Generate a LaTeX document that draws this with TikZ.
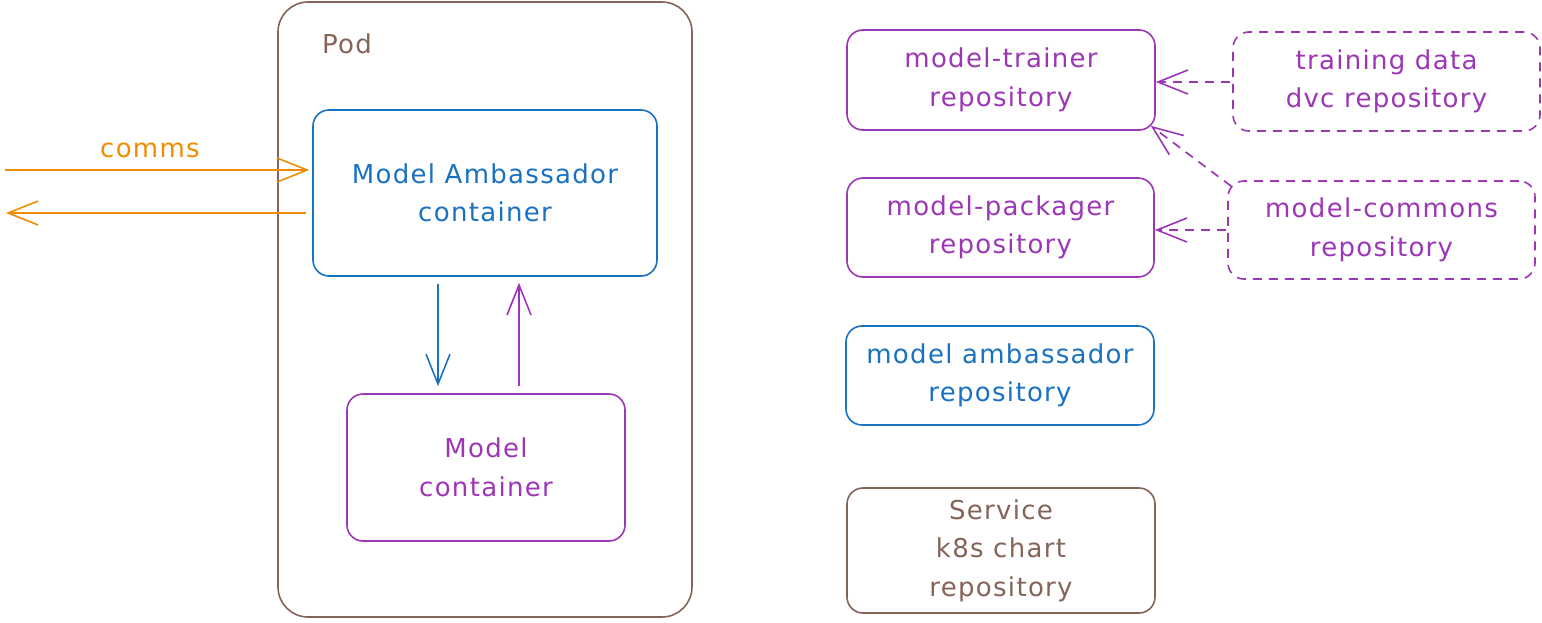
\documentclass[tikz,border=0pt]{standalone}
\usepackage{fontspec}
\setmainfont{DejaVu Sans}[LetterSpace=5]
\usetikzlibrary{arrows.meta,calc}
\definecolor{ebrown}{HTML}{846358}
\definecolor{eblue}{HTML}{1971C2}
\definecolor{epurple}{HTML}{9C36B5}
\definecolor{eorange}{HTML}{F08C00}
\newcommand{\lbl}{\fontsize{26}{38.5}\selectfont}
\tikzset{
  box/.style={draw, rounded corners=16pt, line width=1.6pt, align=center, font=\lbl, inner sep=0pt},
  conn/.style={line width=1.7pt, -{Straight Barb[length=30pt,width=24pt,line width=1.6pt]}},
  dconn/.style={conn, dashed, dash pattern=on 9pt off 7pt},
}
\begin{document}
\begin{tikzpicture}[x=1pt,y=-1pt]
\useasboundingbox (0,0) rectangle (1542,622);
% Pod
\node[box, draw=ebrown, rounded corners=30pt, minimum width=414pt, minimum height=615pt] (pod) at (485,309.5) {};
\node[font=\lbl, text=ebrown, anchor=west, inner sep=0pt] (podl) at (322,44) {Pod};
\node[box, draw=eblue, text=eblue, minimum width=344pt, minimum height=166pt] (amb) at (485,193) {Model Ambassador\\container};
\node[box, draw=epurple, text=epurple, minimum width=278pt, minimum height=147pt] (mod) at (486,467.5) {Model\\container};
% comms
\coordinate (cin) at (5,170);
\coordinate (cout) at (6,213);
\node[font=\lbl, text=eorange, inner sep=0pt] (comms) at (150,150) {comms};
\draw[conn, draw=eorange, shorten >=3pt] (cin) -- (amb.west |- cin);
\draw[conn, draw=eorange, shorten <=6pt] (amb.west |- cout) -- (cout);
% vertical arrows
\coordinate (dx) at (438,0);
\coordinate (ux) at (519,0);
\draw[conn, draw=eblue, shorten <=7pt, shorten >=7pt] (amb.south -| dx) -- (mod.north -| dx);
\draw[conn, draw=epurple, shorten <=7pt, shorten >=6pt] (mod.north -| ux) -- (amb.south -| ux);
% repositories
\node[box, draw=epurple, text=epurple, minimum width=308pt, minimum height=100pt] (trainer) at (1001,80) {model-trainer\\repository};
\node[box, draw=epurple, text=epurple, dashed, dash pattern=on 9pt off 7pt, minimum width=307pt, minimum height=99pt] (training) at (1386.5,81.5) {training data\\dvc repository};
\node[box, draw=epurple, text=epurple, minimum width=307pt, minimum height=99pt] (packager) at (1000.5,227.5) {model-packager\\repository};
\node[box, draw=epurple, text=epurple, dashed, dash pattern=on 9pt off 7pt, minimum width=307pt, minimum height=98pt] (commons) at (1381.5,230) {model-commons\\repository};
\node[box, draw=eblue, text=eblue, minimum width=308pt, minimum height=99pt] (amrepo) at (1000,375.5) {model ambassador\\repository};
\node[box, draw=ebrown, text=ebrown, minimum width=308pt, minimum height=125pt] (service) at (1001,550.5) {Service\\k8s chart\\repository};
% dashed arrows
\draw[dconn, draw=epurple, shorten <=2pt] (training.west |- 0,82) -- (trainer.east |- 0,82);
\draw[dconn, draw=epurple] ($(commons.north west)+(4,6)$) -- ($(trainer.south east)+(-5,-5)$);
\draw[dconn, draw=epurple, shorten <=1pt] (commons.west |- 0,230) -- (packager.east |- 0,230);
\end{tikzpicture}
\end{document}
